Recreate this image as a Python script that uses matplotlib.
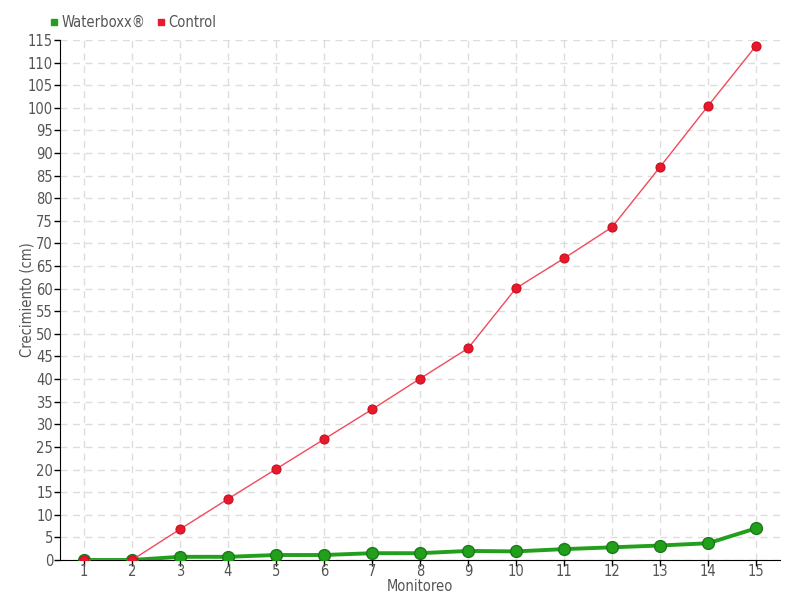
import numpy as np
import matplotlib.pyplot as plt
from matplotlib.lines import Line2D

plt.rcParams['font.family'] = ['DejaVu Sans']
plt.rcParams['font.stretch'] = 'condensed'

monitoreo = list(range(1, 16))
waterboxx = [0, 0, 0.7, 0.7, 1.1, 1.1, 1.5, 1.5, 2.0, 1.9, 2.4, 2.8, 3.2, 3.7, 7.0]
control = [0, 0, 6.8, 13.5, 20.1, 26.7, 33.3, 40.1, 46.8, 60.1, 66.7, 73.6, 86.9, 100.4, 113.7]

green = '#22a01c'
red = '#e8192c'
text_col = '#555555'

fig = plt.figure(figsize=(8, 6), dpi=100)
ax = fig.add_axes([0.075, 0.0667, 0.9, 0.8667])

# Waterboxx: thick line with big markers
ax.plot(monitoreo, waterboxx, color=green, linewidth=2.8, zorder=3,
        marker='o', markersize=8.5, markerfacecolor=green,
        markeredgecolor='#1a7a16', markeredgewidth=1)
# Control: thin line
ax.plot(monitoreo, control, color='#f24a5a', linewidth=1, zorder=4,
        marker='o', markersize=6.5, markerfacecolor=red,
        markeredgecolor='#c8101f', markeredgewidth=0.8)

ax.set_xlim(0.5, 15.5)
ax.set_ylim(0, 115)
ax.set_xticks(monitoreo)
ax.set_yticks(np.arange(0, 116, 5))

ax.grid(True, linestyle=(0, (5, 4)), color='#dddddd', linewidth=1)
ax.set_axisbelow(True)

for side in ['top', 'right']:
    ax.spines[side].set_visible(False)
ax.spines['left'].set_color('black')
ax.spines['bottom'].set_color('black')

ax.tick_params(axis='both', colors='black', labelcolor=text_col,
               labelsize=10.5, length=4, width=1, pad=1)
ax.tick_params(axis='x', pad=-1)

ax.set_xlabel('Monitoreo', color=text_col, fontsize=10.5, labelpad=0)
ax.set_ylabel('Crecimiento (cm)', color=text_col, fontsize=10.5, labelpad=-5)

handles = [
    Line2D([], [], linestyle='none', marker='s', markersize=4.5,
           color=green, label='Waterboxx®'),
    Line2D([], [], linestyle='none', marker='s', markersize=4.5,
           color=red, label='Control'),
]
leg = fig.legend(handles=handles, loc='upper left', bbox_to_anchor=(0.056, 0.985),
                 ncol=2, frameon=False, fontsize=10.5, handlelength=0.5,
                 handletextpad=0.25, columnspacing=0.8, borderaxespad=0)
for t in leg.get_texts():
    t.set_color(text_col)

fig.savefig('out.png', dpi=100)
